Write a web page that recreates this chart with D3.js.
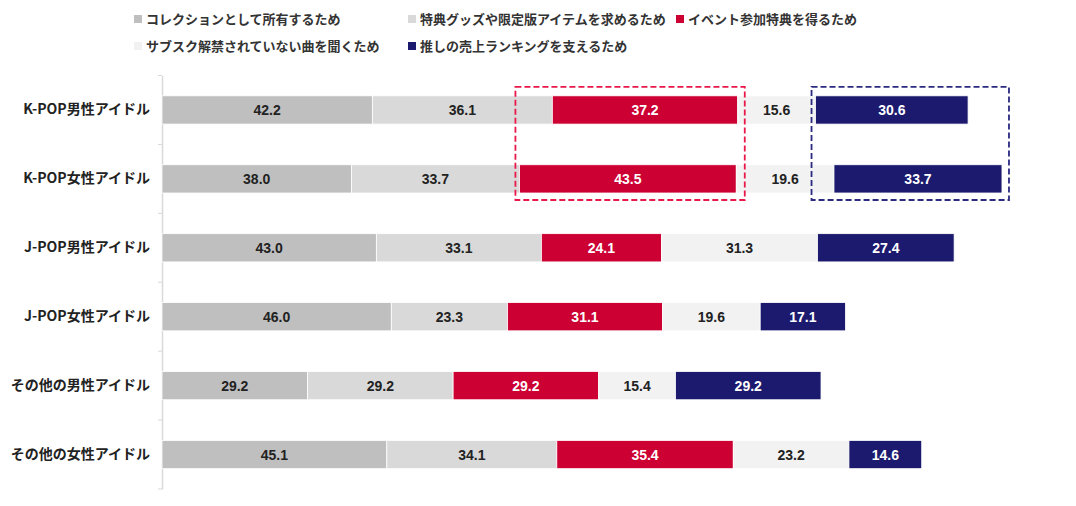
<!DOCTYPE html>
<html><head><meta charset="utf-8">
<script src="https://cdn.jsdelivr.net/npm/d3@7"></script>
<style>
body{margin:0;background:#fff;}
svg{display:block;font-family:"Noto Sans CJK JP","Noto Sans",sans-serif;}
</style></head>
<body><svg id="c" width="1076" height="506"></svg>
<script>
const categories = ["K-POP男性アイドル","K-POP女性アイドル","J-POP男性アイドル","J-POP女性アイドル","その他の男性アイドル","その他の女性アイドル"];
const seriesNames = ["コレクションとして所有するため","特典グッズや限定版アイテムを求めるため","イベント参加特典を得るため","サブスク解禁されていない曲を聞くため","推しの売上ランキングを支えるため"];
const collection = [42.2,38.0,43.0,46.0,29.2,45.1];
const goods = [36.1,33.7,33.1,23.3,29.2,34.1];
const event = [37.2,43.5,24.1,31.1,29.2,35.4];
const subsc = [15.6,19.6,31.3,19.6,15.4,23.2];
const ranking = [30.6,33.7,27.4,17.1,29.2,14.6];
const colors = ["#bfbfbf","#d9d9d9","#cc0033","#f2f2f2","#1b1a6e"];
const textColors = ["#222","#222","#fff","#222","#fff"];

const seriesVals = [collection,goods,event,subsc,ranking];
const rows = categories.map((c,i)=>{const o={cat:c};seriesNames.forEach((s,j)=>o[s]=seriesVals[j][i]);return o;});
const stacked = d3.stack().keys(seriesNames)(rows);

const svg = d3.select("#c");
const x = d3.scaleLinear().domain([0,100]).range([162,660.5]);
const y = d3.scaleBand().domain(categories).range([75.5,489]).paddingInner(0.59).paddingOuter(0.295);

// axis
const yAxis = svg.append("g").attr("transform","translate(162,0)")
  .call(d3.axisLeft(y).tickSize(0).tickPadding(12));
yAxis.select(".domain").attr("stroke","#d9d9d9").attr("stroke-width",1.5);
yAxis.selectAll("text").attr("font-size",14).attr("font-weight","bold").attr("fill","#222")
  .attr("font-family",'"Noto Sans CJK JP",sans-serif');
// boundary ticks
const step = y.step();
svg.append("g").selectAll("line").data(d3.range(categories.length+1)).join("line")
  .attr("x1",158).attr("x2",162)
  .attr("y1",i=>75.5+i*step).attr("y2",i=>75.5+i*step)
  .attr("stroke","#d9d9d9").attr("stroke-width",1);

// bars
const g = svg.append("g");
stacked.forEach((layer,j)=>{
  const lg = g.append("g");
  lg.selectAll("rect").data(layer).join("rect")
    .attr("x",d=>x(d[0])).attr("width",d=>x(d[1])-x(d[0]))
    .attr("y",d=>y(d.data.cat)).attr("height",y.bandwidth())
    .attr("fill",colors[j]).attr("stroke","#fff").attr("stroke-width",0.8);
  lg.selectAll("text").data(layer).join("text")
    .attr("x",d=>(x(d[0])+x(d[1]))/2).attr("y",d=>y(d.data.cat)+y.bandwidth()/2)
    .attr("dy","0.36em").attr("text-anchor","middle")
    .attr("font-size",14).attr("font-weight","bold").attr("fill",textColors[j])
    .attr("font-family",'"Liberation Sans",Arial,sans-serif')
    .text(d=>(d[1]-d[0]).toFixed(1));
});

// dashed highlight boxes over first two categories
function box(j,color){
  const L = stacked[j].slice(0,2);
  const x0 = d3.min(L,d=>x(d[0]))-4, x1 = d3.max(L,d=>x(d[1]))+7;
  const y0 = y(categories[0])-9, y1 = y(categories[1])+y.bandwidth()+7;
  svg.append("rect").attr("x",x0).attr("y",y0).attr("width",x1-x0).attr("height",y1-y0)
    .attr("fill","none").attr("stroke",color).attr("stroke-width",1.8).attr("stroke-dasharray","6,3");
}
box(2,"#e8194a");
box(4,"#2b2a80");

// legend
const legendPos = [[134,19],[408,19],[676,19],[134,46],[408,46]];
const lg = svg.append("g");
seriesNames.forEach((s,j)=>{
  const [lx,ly]=legendPos[j];
  lg.append("rect").attr("x",lx).attr("y",ly-4).attr("width",8).attr("height",8).attr("fill",colors[j]);
  lg.append("text").attr("x",lx+12).attr("y",ly).attr("dy","0.36em")
    .attr("font-size",13).attr("font-weight","bold").attr("fill","#333").text(s);
});
</script></body></html>
